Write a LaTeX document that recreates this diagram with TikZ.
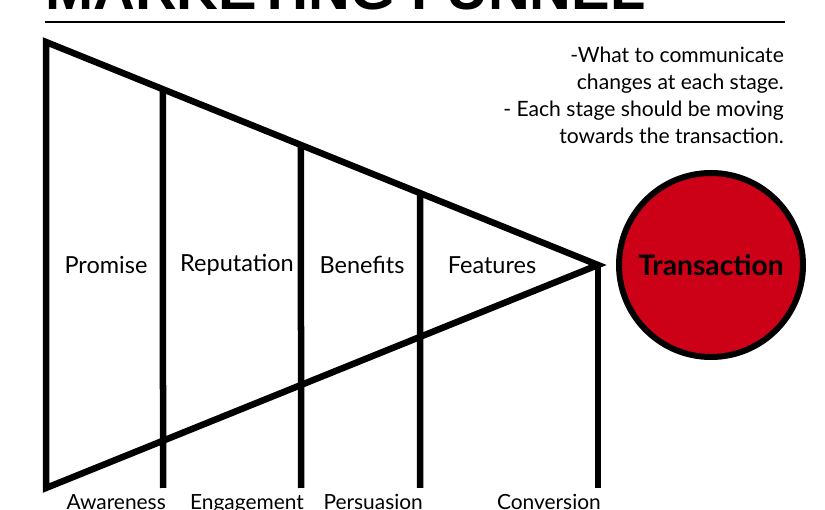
\documentclass[tikz,border=0pt]{standalone}
\usepackage{fontspec}
\setmainfont{Lato}
\newfontfamily\titlefont{Liberation Sans}
\usetikzlibrary{calc}
\definecolor{dealred}{RGB}{204,0,22}
\tikzset{
 edge/.style={line width=6.5pt,line join=miter},
 stage/.style={font=\fontsize{23.5}{27}\selectfont,inner sep=0pt},
 phase/.style={font=\fontsize{20.9}{24}\selectfont,inner sep=0pt},
}
\begin{document}
\begin{tikzpicture}[x=1pt,y=-1pt]
\useasboundingbox (0,0) rectangle (825,510);
% heading
\node[anchor=base west,inner sep=0pt,font=\titlefont\bfseries\fontsize{57.8}{60}\selectfont] (title) at (45,10) {MARKETING FUNNEL};
\draw[line width=2pt] (45,22.5) -- (785,22.5);
% funnel
\coordinate (top) at (46,42);
\coordinate (apex) at (598,265);
\coordinate (bottom) at (46,488);
\draw[edge] (top) -- (apex) -- (bottom) -- cycle;
\foreach \x in {163,301,420,598}
 \draw[edge] ($(top)!{(\x-46)/552}!(apex)$) -- (\x,488);
\foreach \x/\t in {106/Promise,237/Reputation,362/Benefits,492/Features}
 \node[stage] (\t) at (\x,265) {\t};
\foreach \x/\t in {163/Awareness,301/Engagement,420/Persuasion,598/Conversion}
 \node[phase,anchor=base east] (\t) at (\x+3,510) {\t};
% note
\node[anchor=north east,align=right,inner sep=0pt,font=\fontsize{21.1}{27}\selectfont] (note) at (784,47)
 {-What to communicate\\changes at each stage.\\- Each stage should be moving\\towards the transaction.};
% goal
\node[circle,draw,line width=6pt,fill=dealred,minimum size=184pt,inner sep=0pt,font=\bfseries\fontsize{28.2}{32}\selectfont] (deal) at (711,265) {Transaction};
\end{tikzpicture}
\end{document}
